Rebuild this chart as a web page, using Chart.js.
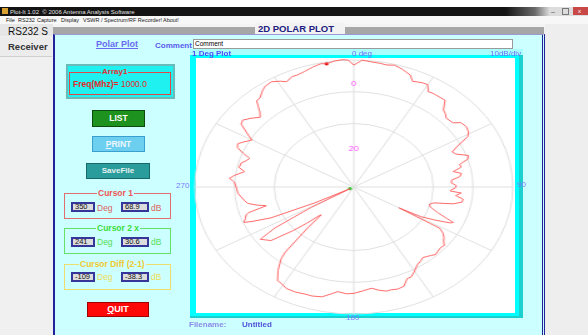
<!DOCTYPE html>
<html>
<head>
<meta charset="utf-8">
<title>2D Polar Plot</title>
<script src="https://cdn.jsdelivr.net/npm/chart.js@4.4.1/dist/chart.umd.min.js"></script>
<style>
  body { margin: 0; width: 588px; height: 335px; position: relative; overflow: hidden;
         background: #f0f0f0; font-family: "Liberation Sans", Arial, sans-serif; }
  .a { position: absolute; white-space: nowrap; line-height: 1; }
  .btn { position: absolute; box-sizing: border-box; text-align: center; font-weight: bold; }
  .grp { position: absolute; box-sizing: border-box; border: 1px solid; }
  .gtitle { position: absolute; white-space: nowrap; line-height: 1; font-weight: bold;
            font-size: 8.5px; background: #ccffff; padding: 0 1px; }
  .box { position: absolute; box-sizing: border-box; border: 2px solid #35359a; background: #dcdcdc;
         font-size: 7.5px; line-height: 6px; padding-left: 2px; color: #111; }
  .unit { position: absolute; font-size: 8.5px; line-height: 1; }
</style>
</head>
<body>

<!-- window chrome -->
<div class="a" style="left:0;top:0;width:588px;height:7px;background:#fff"></div>
<div class="a" style="left:0;top:7px;width:588px;height:9px;background:linear-gradient(90deg,#141414 0%,#141414 86%,#6a6a6a 91%,#dcdcdc 93.5%)"></div>
<div class="a" style="left:2px;top:8px;width:6px;height:6px;background:#d8a030"></div>
<div class="a" style="left:10px;top:9px;font-size:6px;color:#e0e0e0">Plot-It 1.02 &nbsp;© 2006 Antenna Analysis Software</div>
<div class="a" style="left:551px;top:8px;font-size:7px;color:#555">–</div>
<div class="a" style="left:562px;top:8px;width:5px;height:5px;border:1px solid #777"></div>
<div class="a" style="left:573px;top:7px;width:15px;height:8px;background:#c84848"></div>
<div class="a" style="left:578px;top:8px;font-size:6px;color:#fff">x</div>

<div class="a" style="left:0;top:16px;width:588px;height:8px;background:#f7f7f7"></div>
<div class="a" style="left:6px;top:17.5px;font-size:5.5px;color:#222">File</div>
<div class="a" style="left:18px;top:17.5px;font-size:5.5px;color:#222">RS232</div>
<div class="a" style="left:37px;top:17.5px;font-size:5.5px;color:#222">Capture</div>
<div class="a" style="left:61px;top:17.5px;font-size:5.5px;color:#222">Display</div>
<div class="a" style="left:83px;top:17.5px;font-size:5.5px;color:#222">VSWR / Spectrum!</div>
<div class="a" style="left:129px;top:17.5px;font-size:5.5px;color:#222">RF Recorder!</div>
<div class="a" style="left:163px;top:17.5px;font-size:5.5px;color:#222">About!</div>

<!-- left strip behind the plot window -->
<div class="a" style="left:0;top:24px;width:53px;height:12px;background:#e6e6e6"></div>
<div class="a" style="left:8px;top:26.5px;font-size:10px;color:#111">RS232 S</div>
<div class="a" style="left:0;top:37px;width:52px;height:19px;background:#ececec;border-bottom:1px solid #cfcfcf"></div>
<div class="a" style="left:8px;top:41.5px;font-size:9.5px;font-weight:bold;color:#333">Receiver</div>
<div class="a" style="left:545px;top:24px;width:43px;height:311px;background:#eeeeee"></div>

<!-- plot window header -->
<div class="a" style="left:53px;top:24px;width:492px;height:4px;background:#f4f4f4"></div>
<div class="a" style="left:53px;top:27px;width:491px;height:7px;background:#a6a6a6"></div>
<div class="a" style="left:255px;top:23px;width:90px;height:11px;background:#f2f2f2"></div>
<div class="a" style="left:258px;top:24px;font-size:9.5px;font-weight:bold;color:#202080">2D POLAR PLOT</div>

<!-- plot window body -->
<div class="a" style="left:53px;top:34px;width:492px;height:301px;box-sizing:border-box;background:#ccffff;border-left:2px solid #22229a;border-right:3px double #22229a;border-top:1px solid #9a9ad0"></div>

<div class="a" style="left:96px;top:40px;font-size:9px;font-weight:bold;color:#6a6af0;text-decoration:underline">Polar Plot</div>
<div class="a" style="left:155px;top:41.5px;font-size:8px;font-weight:bold;color:#5a5aee">Comment</div>
<div class="a" style="left:193px;top:38.5px;width:320px;height:10px;box-sizing:border-box;background:#fff;border:1px solid #9a9a9a"></div>
<div class="a" style="left:195px;top:40.5px;font-size:6.5px;color:#000">Comment</div>

<!-- Array1 panel -->
<div class="a" style="left:66px;top:64px;width:109px;height:35px;box-sizing:border-box;background:#1ff0f0;border:2px solid #6ababa"></div>
<div class="grp" style="left:69px;top:72px;width:102px;height:23px;border-color:#e04848"></div>
<div class="gtitle" style="left:101px;top:67.5px;color:#e03030;background:#1ff0f0;font-size:8px">Array1</div>
<div class="a" style="left:73px;top:79.5px;font-size:8.5px;color:#e02a2a"><b>Freq(Mhz)=</b> 1000.0</div>

<!-- buttons -->
<div class="btn" style="left:92px;top:110px;width:53px;height:17px;background:#1e921e;border:1px solid #0c4c0c;color:#fff;font-size:8.5px;line-height:15px">LIST</div>
<div class="btn" style="left:92px;top:136px;width:53px;height:16px;background:#6ccff0;border:1px solid #3aa0d0;color:#eef8ff;font-size:8.5px;line-height:14px"><u>P</u>RINT</div>
<div class="btn" style="left:86px;top:163px;width:64px;height:16px;background:#2a9c9c;border:1px solid #176868;color:#e6f2f2;font-size:8px;line-height:14px">SaveFile</div>
<div class="btn" style="left:87px;top:302px;width:62px;height:15px;background:#ff0808;border:1px solid #a00000;color:#fff;font-size:9px;line-height:13px"><u>Q</u>UIT</div>

<!-- cursor readouts -->
<div class="grp" style="left:64px;top:193px;width:107px;height:26px;border-color:#e07070"></div>
<div class="gtitle" style="left:97px;top:188.5px;color:#ee5555">Cursor 1</div>
<div class="box" style="left:71px;top:202px;width:24px;height:10px">350</div>
<div class="unit" style="left:97px;top:203.5px;color:#e06060">Deg</div>
<div class="box" style="left:121px;top:202px;width:28px;height:10px">68.9</div>
<div class="unit" style="left:151px;top:203.5px;color:#e06060">dB</div>

<div class="grp" style="left:64px;top:228px;width:107px;height:26px;border-color:#66e066"></div>
<div class="gtitle" style="left:96px;top:223.5px;color:#3ddc3d">Cursor 2 x</div>
<div class="box" style="left:71px;top:236.5px;width:24px;height:10px">241</div>
<div class="unit" style="left:97px;top:238px;color:#55dd55">Deg</div>
<div class="box" style="left:121px;top:236.5px;width:28px;height:10px">30.6</div>
<div class="unit" style="left:151px;top:238px;color:#55dd55">dB</div>

<div class="grp" style="left:64px;top:264px;width:107px;height:26px;border-color:#f0dd70"></div>
<div class="gtitle" style="left:79px;top:259.5px;color:#f0c830">Cursor Diff (2-1)</div>
<div class="box" style="left:71px;top:271.5px;width:24px;height:10px">-109</div>
<div class="unit" style="left:97px;top:273px;color:#eedd55">Deg</div>
<div class="box" style="left:121px;top:271.5px;width:28px;height:10px">-38.3</div>
<div class="unit" style="left:151px;top:273px;color:#eedd55">dB</div>

<!-- plot frame -->
<div class="a" style="left:190px;top:49px;width:333px;height:6px;background:#aaffff"></div>
<div class="a" style="left:190px;top:55px;width:333px;height:263px;background:#00ffff"></div>
<div class="a" style="left:519px;top:55px;width:4px;height:263px;background:#1cd0d0"></div>
<div class="a" style="left:190px;top:316px;width:333px;height:2px;background:#1cd0d0"></div>
<div class="a" style="left:196px;top:58px;width:319px;height:255px;background:#fff"></div>
<canvas id="polar" width="261" height="261" style="position:absolute;left:191px;top:57px;transform:scaleX(1.252);transform-origin:0 0"></canvas>

<div class="a" style="left:192px;top:50px;font-size:8px;font-weight:bold;color:#4d4dff">1 Deg Plot</div>
<div class="a" style="left:352px;top:50px;font-size:8px;color:#6b6bff">0 deg</div>
<div class="a" style="left:490px;top:49.5px;font-size:8px;color:#6b6bff">10dB/div</div>
<div class="a" style="left:176px;top:181.5px;font-size:8px;color:#7a7aff">270</div>
<div class="a" style="left:517px;top:181px;font-size:8px;color:#7a7aff">90</div>
<div class="a" style="left:346px;top:313.5px;font-size:8px;color:#7a7aff">180</div>
<div class="a" style="left:189px;top:321px;font-size:8px;font-weight:bold;color:#8a8ae8">Filename:</div>
<div class="a" style="left:242px;top:321px;font-size:8px;font-weight:bold;color:#5050d8">Untitled</div>

<script>
// measured pattern, bearing in degrees (0 = north, clockwise) and level in dB
const bearings = [0, 3, 6, 10, 12, 15, 18, 22, 24, 26, 28, 30, 32, 34, 37, 40, 43, 45, 47, 51,
  53, 56, 59, 61, 64, 66, 68, 71, 73, 75, 77, 79, 81, 83, 85, 87, 89, 91, 92, 93,
  94, 96, 98, 100, 102, 104, 106, 108, 111, 113, 114, 115, 117, 119, 120, 121, 123, 125, 127, 129,
  131, 134, 136, 138, 140, 142, 144, 147, 150, 153, 155, 158, 161, 164, 166, 169, 172, 176, 180, 183,
  187, 190, 193, 197, 200, 204, 208, 211, 213, 216, 219, 220, 222, 223, 224, 226, 228, 231, 233, 235,
  237, 239, 241, 243, 245, 247, 248, 250, 252, 253, 255, 257, 259, 261, 263, 266, 270, 273, 275, 277,
  280, 282, 285, 287, 289, 291, 293, 295, 297, 300, 302, 305, 307, 310, 313, 315, 318, 320, 323, 325,
  328, 331, 333, 336, 338, 341, 345, 348, 350, 353, 356, 358];
const levels = [67.9, 69.5, 69.2, 69.0, 68.8, 69.2, 68.6, 67.5, 65.9, 66.3, 66.6, 66.7, 64.9, 65.1, 65.1, 65.2, 62.6, 62.1, 61.3, 61.6,
  63.2, 63.6, 63.2, 62.3, 58.3, 56.6, 57.2, 60.0, 59.5, 57.1, 57.2, 55.0, 56.9, 56.4, 54.2, 54.1, 55.3, 54.9, 54.1, 53.8,
  56.6, 55.3, 57.3, 57.1, 55.0, 50.2, 49.3, 49.7, 52.2, 55.0, 56.9, 56.3, 52.5, 48.7, 42.7, 54.7, 56.3, 57.2, 57.8, 58.8,
  58.5, 58.8, 59.1, 58.5, 58.1, 57.7, 58.2, 58.8, 60.1, 61.3, 61.3, 63.2, 63.5, 63.2, 63.3, 62.6, 61.7, 62.3, 63.0, 63.2,
  62.7, 63.8, 65.0, 65.4, 65.4, 65.7, 65.7, 64.9, 64.7, 61.9, 58.5, 56.3, 46.8, 41.5, 42.1, 45.9, 50.0, 56.3, 57.2, 58.2,
  53.1, 42.1, 30.6, 40.5, 52.5, 57.2, 59.3, 58.5, 58.0, 57.2, 52.3, 54.7, 56.6, 57.3, 57.8, 58.7, 59.1, 59.6, 60.9, 59.7,
  57.4, 59.0, 58.8, 57.8, 57.2, 59.4, 61.3, 61.7, 60.7, 59.1, 61.0, 64.1, 64.5, 63.2, 61.7, 62.9, 66.0, 66.2, 67.6, 68.3,
  68.6, 67.6, 66.7, 67.6, 67.5, 67.9, 68.7, 69.2, 68.9, 69.5, 69.7, 69.5];

// cursor markers
const cursorBearings = [350, 241];
const cursorLevels = [68.9, 30.6];

// radial scale: 10 dB per ring, rings drawn at these levels
const scaleMin = 29.5;
const scaleMax = 69.5;
const ringLevels = [49.5, 59.5, 69.5];
const markLevels = [61.9, 41.5];
const markTexts = ['0', '20'];

const FONT = '"Liberation Sans", Arial, sans-serif';
const GRID = '#e0e0e0';

const degrees = Array.from({ length: 360 }, (_, i) => String(i));
const trace = degrees.map(() => null);
bearings.forEach((b, i) => { trace[b] = levels[i]; });
const cursor1 = degrees.map(() => null);
cursor1[cursorBearings[0]] = cursorLevels[0];
const cursor2 = degrees.map(() => null);
cursor2[cursorBearings[1]] = cursorLevels[1];

const allTicks = [scaleMin, 39.5].concat(ringLevels, markLevels).sort((a, b) => a - b);

new Chart(document.getElementById('polar'), {
    type: 'radar',
    data: {
        labels: degrees,
        datasets: [
            { data: trace, borderColor: 'rgba(255,80,80,0.85)', borderWidth: 1, pointRadius: 0,
              fill: false, spanGaps: true, tension: 0 },
            { data: cursor1, showLine: false, pointRadius: 1.6, pointBorderWidth: 0,
              pointBackgroundColor: '#dd0000' },
            { data: cursor2, showLine: false, pointRadius: 1.6, pointBorderWidth: 0,
              pointBackgroundColor: '#33cc33' }
        ]
    },
    options: {
        responsive: false,
        animation: false,
        layout: { padding: 0 },
        plugins: { legend: { display: false }, tooltip: { enabled: false } },
        scales: {
            r: {
                min: scaleMin,
                max: scaleMax,
                startAngle: 0,
                afterBuildTicks: (scale) => { scale.ticks = allTicks.map(v => ({ value: v })); },
                ticks: {
                    display: true,
                    showLabelBackdrop: false,
                    backdropPadding: 0,
                    color: '#ff44ff',
                    font: { size: 7, family: FONT },
                    callback: (v) => {
                        const k = markLevels.indexOf(v);
                        return k >= 0 ? markTexts[k] : '';
                    }
                },
                grid: {
                    circular: true,
                    lineWidth: 1,
                    color: (ctx) => ringLevels.includes(ctx.tick.value) ? GRID : 'transparent'
                },
                angleLines: {
                    lineWidth: (ctx) => ctx.index % 30 === 0 ? 1 : 0,
                    color: GRID
                },
                pointLabels: { display: false }
            }
        }
    }
});
</script>
</body>
</html>
